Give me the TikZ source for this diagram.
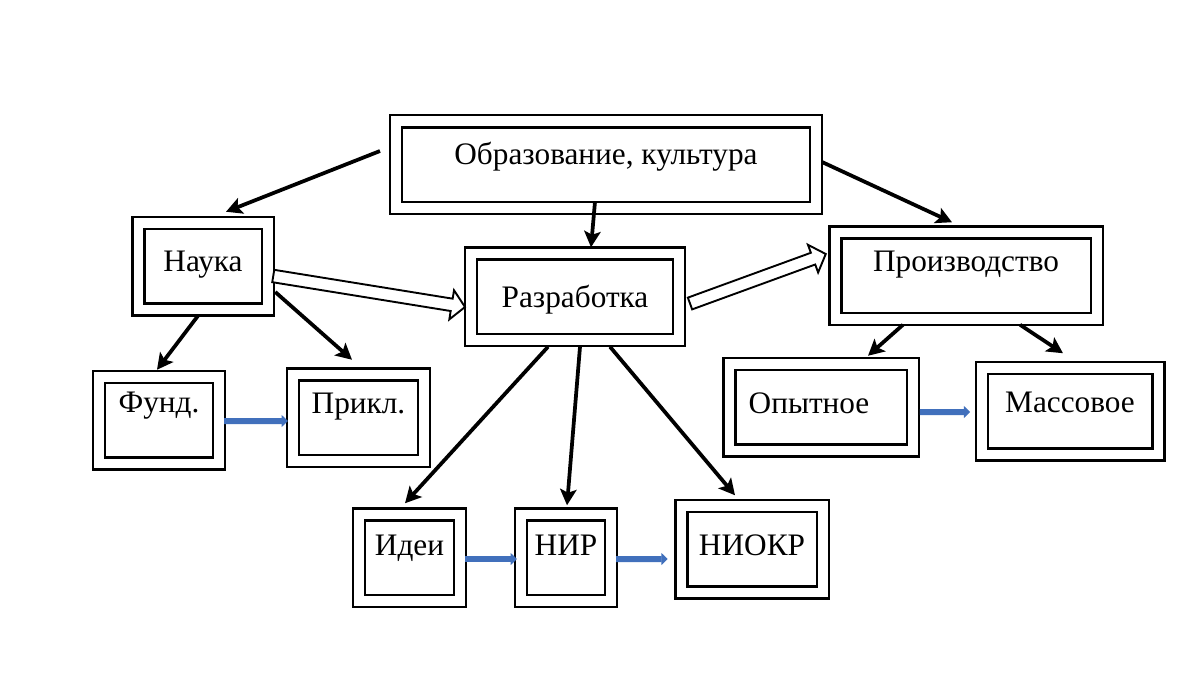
\documentclass[tikz,border=0pt]{standalone}
\usepackage{fontspec}
\setmainfont{Liberation Serif}
\usepackage{tikz}
\usetikzlibrary{calc,positioning,arrows.meta}

\definecolor{flowblue}{HTML}{4170BC}

% hollow double-lined arrow between two points
\newcommand{\fatarrow}[2]{%
  \draw[fat] let \p1=(#1), \p2=(#2), \n1={atan2(\y2-\y1,\x2-\x1)}, \n2={veclen(\x2-\x1,\y2-\y1)} in
    ($(\p1)+(\n1+90:1.25mm)$) -- ++(\n1:\n2-2.7mm) -- ++(\n1+90:1.7mm) -- (\p2)
    -- ($(\p2)+(\n1+180:2.7mm)+(\n1-90:2.95mm)$) -- ++(\n1+90:1.7mm)
    -- ($(\p1)+(\n1-90:1.25mm)$) -- cycle;}

\begin{document}
\begin{tikzpicture}[x=0.2mm, y=-0.2mm,
	dbox/.style={draw, double, double distance=1.9mm, line width=0.5mm, outer sep=0pt,
		inner sep=1pt, minimum height=17.3mm, text height=6mm, text depth=#1,
		font=\fontsize{17.8}{20}\selectfont},
	dbox/.default=4mm,
	link/.style={line width=0.75mm, -{Stealth[length=3.2mm, width=3.3mm, inset=0.7mm]}},
	flow/.style={flowblue, line width=1.2mm, -{Triangle[length=1.3mm, width=2.4mm]}},
	fat/.style={draw, fill=white, line width=0.38mm, line join=miter}]
	\useasboundingbox (0,0) rectangle (1200,675);

	\node[dbox=6.2mm, minimum width=84mm] (obraz) at (606,164.5) {Образование, культура} ;
	\node[dbox=4mm, minimum width=25.9mm] (nauka) at (203,266) {Наука} ;
	\node[dbox=9.2mm, minimum width=24mm] (fund) at (159,420) {Фунд.} ;
	\node[dbox=7.8mm, minimum width=26.2mm] (prikl) at (358.5,417.5) {Прикл.} ;
	\node[dbox=1.8mm, minimum width=41.6mm] (razrab) at (575,296.5) {Разработка} ;
	\node[dbox=7.5mm, minimum width=52.3mm] (proizv) at (966,275.5) {Производство} ;
	\node[dbox=3.5mm, minimum width=36.7mm] (opyt) at (821,407) {Опытное\kern4.8mm} ;
	\node[dbox=5.3mm, minimum width=35.3mm] (mass) at (1070,411) {Массовое} ;
	\node[dbox=7mm, minimum width=20.2mm] (idei) at (409.5,557.5) {Идеи} ;
	\node[dbox=7mm, minimum width=18mm, right=12.2mm of idei] (nir) {НИР} ;
	\node[dbox=3.6mm, minimum width=28.3mm] (niokr) at (752,549) {НИОКР} ;

	% black arrows
	\draw[link] ([xshift=-3.2mm, yshift=2.7mm]obraz.west) -- ([xshift=4.6mm, yshift=2.2mm]nauka.north) ;
	\draw[link] ([xshift=-2.2mm, yshift=1.2mm]obraz.south) -- ([xshift=3.2mm, yshift=1.2mm]razrab.north) ;
	\draw[link] ([xshift=1.2mm, yshift=0.5mm]obraz.east) -- ([xshift=-2.8mm, yshift=2mm]proizv.north) ;
	\draw[link] ([xshift=-1mm, yshift=-1.3mm]nauka.south) -- ([xshift=-0.4mm, yshift=1.4mm]fund.north) ;
	\draw[link] ([xshift=1.5mm, yshift=-5.2mm]nauka.east) -- ([xshift=-1.3mm, yshift=2.9mm]prikl.north) ;
	\draw[link] ([xshift=-5.4mm, yshift=-1.4mm]razrab.south) -- ([xshift=-0.9mm, yshift=2.2mm]idei.north) ;
	\draw[link] ([xshift=1mm, yshift=-1.4mm]razrab.south) -- ([xshift=0.2mm, yshift=1.8mm]nir.north) ;
	\draw[link] ([xshift=7mm, yshift=-1.4mm]razrab.south) -- ([xshift=-3.4mm, yshift=2.1mm]niokr.north) ;
	\draw[link] ([xshift=-12.6mm, yshift=-1.2mm]proizv.south) -- ([xshift=9.4mm, yshift=1.6mm]opyt.north) ;
	\draw[link] ([xshift=10.8mm, yshift=-1.2mm]proizv.south) -- ([xshift=-1.4mm, yshift=2.9mm]mass.north) ;

	% hollow arrows
	\fatarrow{[xshift=1.1mm, yshift=-2mm]nauka.east}{[xshift=-1.2mm, yshift=-2.1mm]razrab.west}
	\fatarrow{[xshift=2.2mm, yshift=-1.4mm]razrab.east}{[xshift=-1.9mm, yshift=4.3mm]proizv.west}

	% blue arrows
	\draw[flow] ([xshift=1mm, yshift=-0.2mm]fund.east) -- ([xshift=-1mm, yshift=-0.7mm]prikl.west) ;
	\draw[flow] ([xshift=1.4mm, yshift=-1mm]opyt.east) -- ([xshift=-2.3mm, yshift=-0.2mm]mass.west) ;
	\draw[flow] ([xshift=1mm, yshift=-0.3mm]idei.east) -- ([xshift=-0.8mm, yshift=-0.3mm]nir.west) ;
	\draw[flow] ([xshift=1mm, yshift=-0.3mm]nir.east) -- ([xshift=-2.7mm, yshift=-2mm]niokr.west) ;
\end{tikzpicture}
\end{document}
